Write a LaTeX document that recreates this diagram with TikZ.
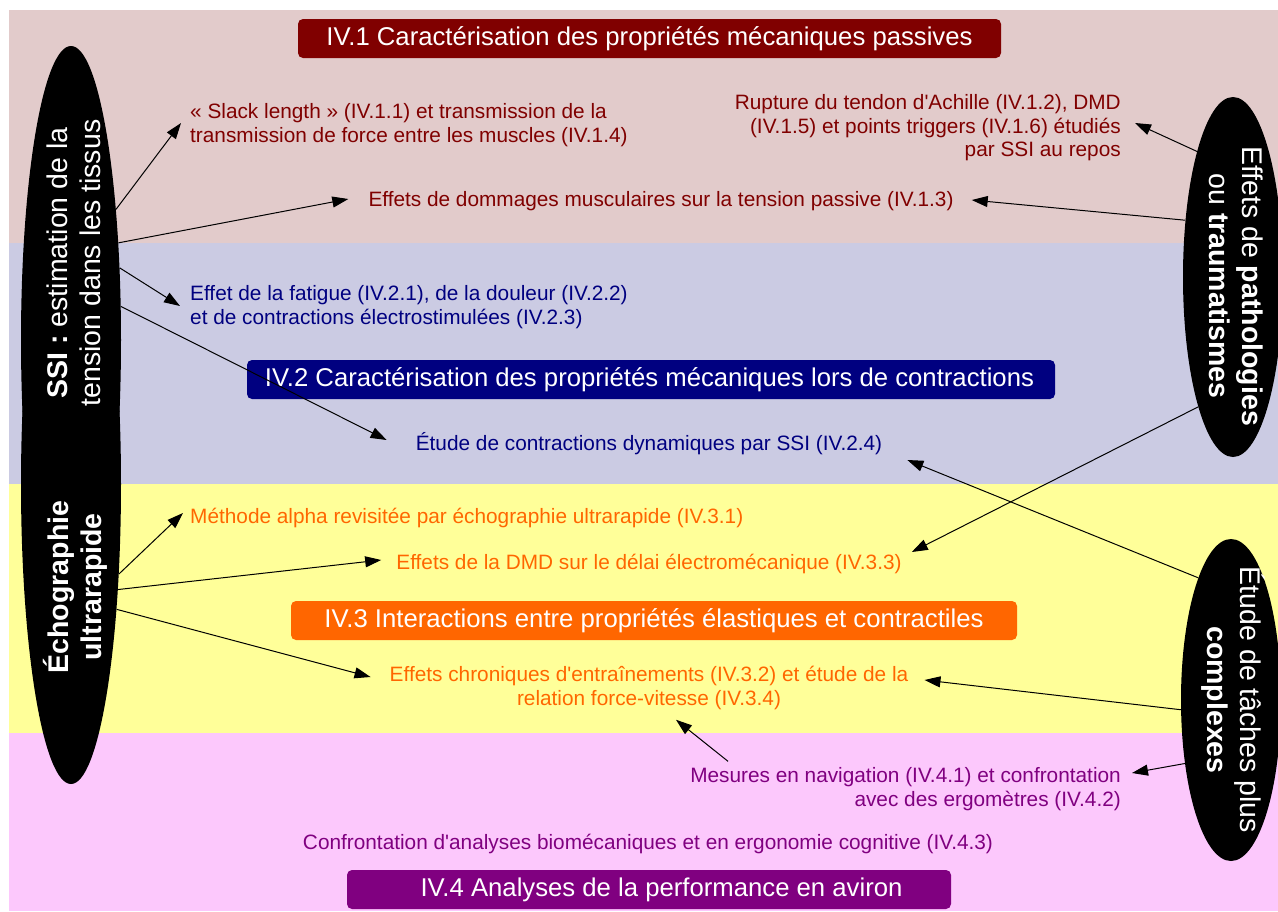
\documentclass[tikz,border=0pt]{standalone}
\usepackage{fontspec}
\setmainfont{Liberation Sans}
\usetikzlibrary{arrows.meta,shapes.geometric}
\definecolor{bandA}{HTML}{E2CBCB}
\definecolor{bandB}{HTML}{CBCBE3}
\definecolor{bandC}{HTML}{FFFF99}
\definecolor{bandD}{HTML}{FCC8FC}
\definecolor{redT}{HTML}{800000}
\definecolor{blueT}{HTML}{000080}
\definecolor{orangeT}{HTML}{FF6600}
\definecolor{purpleT}{HTML}{800080}
\newcommand{\qq}{\textquotesingle}
\begin{document}
\begin{tikzpicture}[x=1pt,y=-1pt,
  titlebox/.style={fill=#1, text=white, rounded corners=5pt, minimum height=39pt, inner sep=0pt, font=\fontsize{25.7}{30}\selectfont},
  body/.style={text=#1, inner sep=0pt, font=\fontsize{20.8}{23.5}\selectfont},
  blob/.style={ellipse, fill=black, draw=none, inner sep=0pt, minimum width=100pt},
  blobtext/.style={text=white, align=center, inner sep=0pt, font=\fontsize{28.5}{33}\selectfont},
  arr/.style={-{Triangle[length=16pt,width=11pt]}, line width=1pt, black},
]
\useasboundingbox (0,0) rectangle (1278,911);
\clip (0,0) rectangle (1278,911);
% bands
\fill[bandA] (9,10) rectangle (1278,243);
\fill[bandB] (9,243) rectangle (1278,484);
\fill[bandC] (9,484) rectangle (1278,733);
\fill[bandD] (9,733) rectangle (1278,911);
% titles
\node[titlebox=redT, minimum width=703pt] (t1) at (649.5,38.5) {IV.1 Caractérisation des propriétés mécaniques passives};
\node[titlebox=blueT, minimum width=808pt] (t2) at (651,379.5) {\hspace*{-3pt}IV.2 Caractérisation des propriétés mécaniques lors de contractions};
\node[titlebox=orangeT, minimum width=726pt] (t3) at (654,620.5) {IV.3 Interactions entre propriétés élastiques et contractiles};
\node[titlebox=purpleT, minimum width=604pt] (t4) at (649,889.5) {\hspace*{25pt}IV.4 Analyses de la performance en aviron};
% texts
\node[body=redT, anchor=west, align=left] (slack) at (190,125) {« Slack length » (IV.1.1) et transmission de la\\transmission de force entre les muscles (IV.1.4)};
\node[body=redT] (dom) at (661,201) {Effets de dommages musculaires sur la tension passive (IV.1.3)};
\node[body=redT, anchor=east, align=right] (rup) at (1121,128) {Rupture du tendon d\qq Achille (IV.1.2), DMD\\(IV.1.5) et points triggers (IV.1.6) étudiés\\par SSI au repos\hspace{6pt}};
\node[body=blueT, anchor=west, align=left] (fat) at (190,307) {Effet de la fatigue (IV.2.1), de la douleur (IV.2.2)\\et de contractions électrostimulées (IV.2.3)};
\node[body=blueT] (etude) at (649,444) {Étude de contractions dynamiques par SSI (IV.2.4)};
\node[body=orangeT, anchor=west] (alpha) at (190,518) {Méthode alpha revisitée par échographie ultrarapide (IV.3.1)};
\node[body=orangeT] (dmd) at (649,564) {Effets de la DMD sur le délai électromécanique (IV.3.3)};
\node[body=orangeT, align=center] (chron) at (649,688) {Effets chroniques d\qq entraînements (IV.3.2) et étude de la\\relation force-vitesse (IV.3.4)};
\node[body=purpleT, anchor=east, align=right] (mes) at (1121,789) {Mesures en navigation (IV.4.1) et confrontation\\avec des ergomètres (IV.4.2)};
\node[body=purpleT] (conf) at (648,844) {Confrontation d\qq analyses biomécaniques et en ergonomie cognitive (IV.4.3)};
% ellipses
\node[blob, minimum height=588pt] (ssi) at (71,340) {};
\node[blob, minimum height=600pt] (echo) at (71,484) {};
\node[blob, minimum height=360pt] (path) at (1233,277) {};
\node[blob, minimum height=322pt] (tach) at (1231,700) {};
\node[blobtext, rotate=90] (ssitxt) at (74,263) {\textbf{SSI :} estimation de la\\tension dans les tissus};
\node[blobtext, rotate=90] (echotxt) at (75,587) {\textbf{Échographie}\\\textbf{ultrarapide}};
\node[blobtext, rotate=-90] (pathtxt) at (1236,286) {Effets de \textbf{pathologies}\\ou \textbf{traumatismes}};
\node[blobtext, rotate=-90] (tachtxt) at (1233,700) {Étude de tâches plus\\\textbf{complexes}};
% arrows from SSI
\draw[arr] (ssi.71) -- ([shift={(-9,-2)}]slack.west);
\draw[arr] (ssi.64) -- ([shift={(-20,-2)}]dom.west);
\draw[arr] (ssi.56) -- ([shift={(-10,-1)}]fat.west);
\draw[arr] (ssi.34) -- ([shift={(-29,-4)}]etude.west);
% arrows from echographie
\draw[arr] (echo.-62) -- ([shift={(-7,-5)}]alpha.west);
\draw[arr] (echo.-66) -- ([shift={(-15,-4)}]dmd.west);
\draw[arr] (echo.-70) -- ([shift={(-19,-11)}]chron.west);
% arrows from pathologies
\draw[arr] (path.106) -- ([shift={(14,-5)}]rup.east);
\draw[arr] (path.130) -- ([shift={(18,-1)}]dom.east);
\draw[arr] (path.-105) -- ([shift={(10,-12)}]dmd.east);
% arrows from taches complexes
\draw[arr] (tach.105) -- ([shift={(25,16)}]etude.east);
\draw[arr] (tach.191) -- ([shift={(16,-8)}]chron.east);
\draw[arr] (tach.234) -- ([shift={(11,-16)}]mes.east);
\draw[arr] ([shift={(38,-6)}]mes.north west) -- ([shift={(27,10)}]chron.south);
\end{tikzpicture}
\end{document}
